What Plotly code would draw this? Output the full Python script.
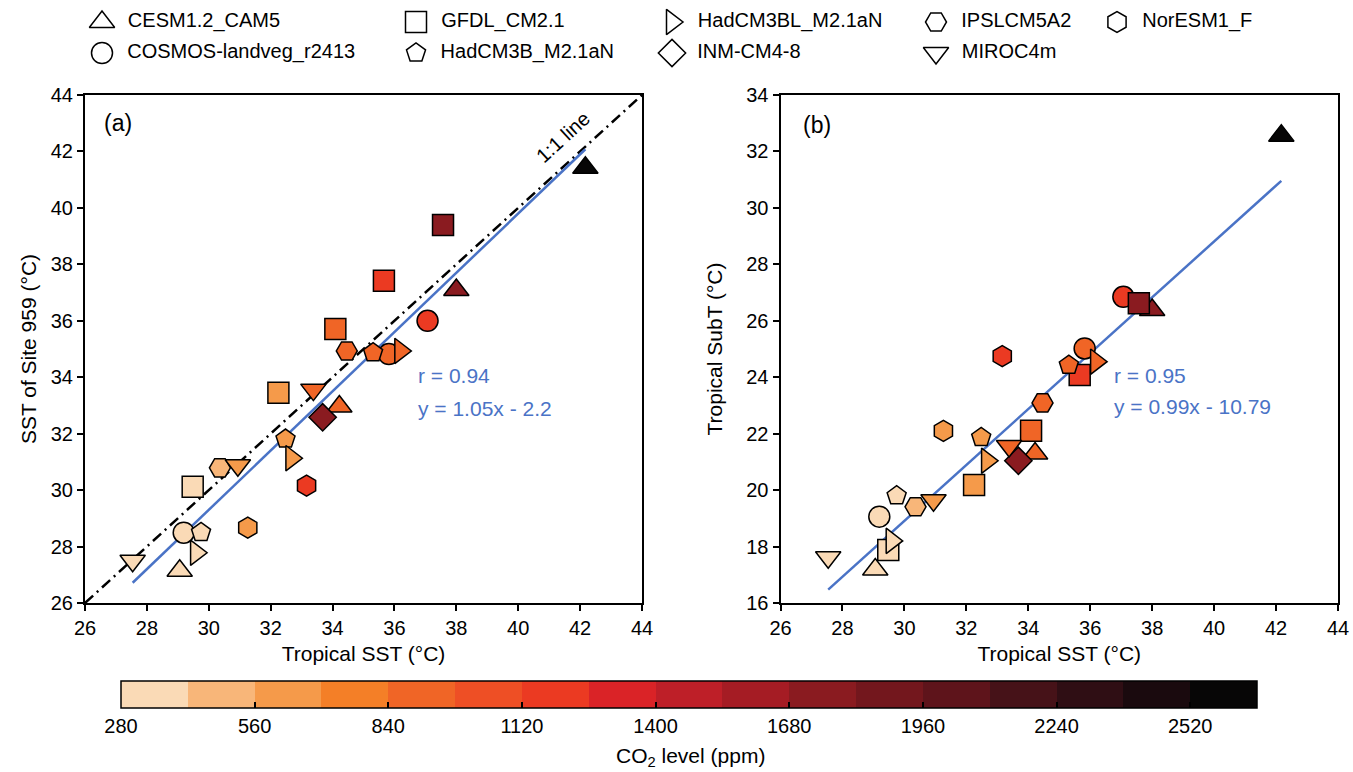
import plotly.graph_objects as go

W, H = 1353, 772
FONT = "Liberation Sans"

# ---------------- data ----------------
MODELS = ["CESM1.2_CAM5", "COSMOS-landveg_r2413", "GFDL_CM2.1", "HadCM3B_M2.1aN",
          "HadCM3BL_M2.1aN", "INM-CM4-8", "IPSLCM5A2", "MIROC4m", "NorESM1_F"]

SYMBOLS = {
    "CESM1.2_CAM5": "triangle-up",
    "COSMOS-landveg_r2413": "circle",
    "GFDL_CM2.1": "square",
    "HadCM3B_M2.1aN": "pentagon",
    "HadCM3BL_M2.1aN": "triangle-right",
    "INM-CM4-8": "diamond",
    "IPSLCM5A2": "hexagon2",
    "MIROC4m": "triangle-down",
    "NorESM1_F": "hexagon",
}

CO2 = {
    "CESM1.2_CAM5": [280, 840, 1680, 2520],
    "COSMOS-landveg_r2413": [280, 840, 1120],
    "GFDL_CM2.1": [280, 560, 840, 1120, 1680],
    "HadCM3B_M2.1aN": [280, 560, 840],
    "HadCM3BL_M2.1aN": [280, 560, 840],
    "INM-CM4-8": [1680],
    "IPSLCM5A2": [420, 840],
    "MIROC4m": [280, 560, 840],
    "NorESM1_F": [560, 1120],
}

TROPICAL_SST = {
    "CESM1.2_CAM5": [29.06, 34.22, 38.00, 42.17],
    "COSMOS-landveg_r2413": [29.19, 35.82, 37.07],
    "GFDL_CM2.1": [29.48, 32.25, 34.09, 35.66, 37.57],
    "HadCM3B_M2.1aN": [29.75, 32.48, 35.31],
    "HadCM3BL_M2.1aN": [29.59, 32.67, 36.19],
    "INM-CM4-8": [33.68],
    "IPSLCM5A2": [30.36, 34.46],
    "MIROC4m": [27.54, 30.94, 33.38],
    "NorESM1_F": [31.26, 33.16],
}

SITE959_SST = {
    "CESM1.2_CAM5": [27.14, 32.96, 37.09, 41.42],
    "COSMOS-landveg_r2413": [28.49, 34.82, 36.00],
    "GFDL_CM2.1": [30.12, 33.45, 35.71, 37.42, 39.39],
    "HadCM3B_M2.1aN": [28.50, 31.81, 34.87],
    "HadCM3BL_M2.1aN": [27.78, 31.13, 34.93],
    "INM-CM4-8": [32.58],
    "IPSLCM5A2": [30.79, 34.93],
    "MIROC4m": [27.50, 30.88, 33.56],
    "NorESM1_F": [28.67, 30.16],
}

TROPICAL_SUBT = {
    "CESM1.2_CAM5": [17.19, 21.30, 26.38, 32.56],
    "COSMOS-landveg_r2413": [19.06, 25.02, 26.85],
    "GFDL_CM2.1": [17.88, 20.18, 22.10, 24.08, 26.62],
    "HadCM3B_M2.1aN": [19.80, 21.87, 24.43],
    "HadCM3BL_M2.1aN": [18.20, 21.04, 24.55],
    "INM-CM4-8": [21.04],
    "IPSLCM5A2": [19.41, 23.09],
    "MIROC4m": [17.62, 19.64, 21.56],
    "NorESM1_F": [22.10, 24.75],
}

# regression results shown on the panels
FIT_A_SLOPE, FIT_A_INTERCEPT, FIT_A_R = 1.05, -2.2, 0.94
FIT_B_SLOPE, FIT_B_INTERCEPT, FIT_B_R = 0.99, -10.79, 0.95

# discrete CO2 colour scale (140 ppm per step)
CO2_MIN, CO2_STEP = 280, 140
CO2_COLORS = ["#FADAB6", "#F8B679", "#F59A4A", "#F47F27", "#F06526", "#EE4F25",
              "#EB3A22", "#DA2327", "#BE1F28", "#A51C24", "#8A1B20", "#73171D",
              "#5E141B", "#461218", "#2F0E14", "#1A0A0E", "#070606"]
CO2_MAX = CO2_MIN + CO2_STEP * len(CO2_COLORS)
CBAR_TICKS = [280, 560, 840, 1120, 1400, 1680, 1960, 2240, 2520]

AXIS_TICKS_X = [26, 28, 30, 32, 34, 36, 38, 40, 42, 44]
AXIS_TICKS_YA = [26, 28, 30, 32, 34, 36, 38, 40, 42, 44]
AXIS_TICKS_YB = [16, 18, 20, 22, 24, 26, 28, 30, 32, 34]

# ---------------- style ----------------
BLUE = "#4A73C6"
SIZES = {"triangle-up": 22, "triangle-down": 22, "triangle-right": 22,
         "circle": 21, "square": 21, "pentagon": 20, "diamond": 21,
         "hexagon": 21, "hexagon2": 21}
LEG_H = 75  # legend band height in px


def co2_color(v):
    idx = int((v - CO2_MIN) // CO2_STEP)
    idx = max(0, min(len(CO2_COLORS) - 1, idx))
    return CO2_COLORS[idx]


fig = go.Figure()

all_x = [v for m in MODELS for v in TROPICAL_SST[m]]
xmin, xmax = min(all_x), max(all_x)

# 1:1 line (panel a)
fig.add_trace(go.Scatter(x=[26, 44], y=[26, 44], mode="lines",
                         line=dict(color="black", width=2.5, dash="11px,5px,2px,5px"),
                         xaxis="x", yaxis="y", showlegend=False, hoverinfo="skip"))
# regression lines
fig.add_trace(go.Scatter(x=[xmin, xmax],
                         y=[FIT_A_SLOPE * xmin + FIT_A_INTERCEPT, FIT_A_SLOPE * xmax + FIT_A_INTERCEPT],
                         mode="lines", line=dict(color=BLUE, width=2.5),
                         xaxis="x", yaxis="y", showlegend=False, hoverinfo="skip"))
fig.add_trace(go.Scatter(x=[xmin, xmax],
                         y=[FIT_B_SLOPE * xmin + FIT_B_INTERCEPT, FIT_B_SLOPE * xmax + FIT_B_INTERCEPT],
                         mode="lines", line=dict(color=BLUE, width=2.5),
                         xaxis="x2", yaxis="y2", showlegend=False, hoverinfo="skip"))

for m in MODELS:
    sym = SYMBOLS[m]
    cols = [co2_color(v) for v in CO2[m]]
    mk = dict(symbol=sym, size=SIZES[sym], color=cols, line=dict(color="black", width=1.5))
    fig.add_trace(go.Scatter(x=TROPICAL_SST[m], y=SITE959_SST[m], mode="markers", marker=mk,
                             name=m, xaxis="x", yaxis="y", showlegend=False))
    fig.add_trace(go.Scatter(x=TROPICAL_SST[m], y=TROPICAL_SUBT[m], mode="markers", marker=mk,
                             name=m, xaxis="x2", yaxis="y2", showlegend=False))

# ---------------- legend (manual grid, 5 columns x 2 rows, column-major) ----------------
LEG_COL_X = [102, 416, 672, 936, 1117]
LEG_ROW_Y = [22, 53]
for i, m in enumerate(MODELS):
    sym = SYMBOLS[m]
    fig.add_trace(go.Scatter(x=[LEG_COL_X[i // 2]], y=[LEG_ROW_Y[i % 2]],
                             mode="markers+text", text=["  " + m], textposition="middle right",
                             textfont=dict(family=FONT, size=20, color="black"),
                             marker=dict(symbol=sym, size=SIZES[sym], color="white",
                                         line=dict(color="black", width=1.5)),
                             xaxis="x3", yaxis="y3", showlegend=False, hoverinfo="skip",
                             cliponaxis=False))

# colour bar holder
cscale = []
n = len(CO2_COLORS)
for i, c in enumerate(CO2_COLORS):
    cscale.append([i / n, c])
    cscale.append([(i + 1) / n, c])
fig.add_trace(go.Scatter(x=[None], y=[None], mode="markers",
                         marker=dict(color=[CO2_MIN], colorscale=cscale, cmin=CO2_MIN, cmax=CO2_MAX,
                                     showscale=True,
                                     colorbar=dict(orientation="h", x=(121 + 1257) / 2 / W, xanchor="center",
                                                   y=1 - 681 / H, yanchor="top", len=1136 / W,
                                                   lenmode="fraction", thickness=27, thicknessmode="pixels",
                                                   outlinewidth=1.5, outlinecolor="black",
                                                   tickvals=CBAR_TICKS, ticks="inside", ticklen=6,
                                                   tickwidth=1.5, tickcolor="black",
                                                   tickfont=dict(family=FONT, size=20, color="black"),
                                                   xpad=0, ypad=0, borderwidth=0)),
                         xaxis="x", yaxis="y", showlegend=False, hoverinfo="skip"))

axis_common = dict(showgrid=False, zeroline=False, showline=True, linecolor="black", linewidth=2,
                   mirror=True, ticks="outside", ticklen=6, tickwidth=1.5, tickcolor="black",
                   tickfont=dict(family=FONT, size=20, color="black"))

fig.update_layout(
    width=W, height=H, margin=dict(l=0, r=0, t=0, b=0, autoexpand=False),
    paper_bgcolor="white", plot_bgcolor="rgba(0,0,0,0)",
    font=dict(family=FONT, size=20, color="black"),
    xaxis=dict(domain=[85 / W, 642 / W], range=[26, 44], tickvals=AXIS_TICKS_X,
               title=dict(text="Tropical SST (°C)", font=dict(size=21), standoff=8), anchor="y",
               **axis_common),
    yaxis=dict(domain=[1 - 603 / H, 1 - 95 / H], range=[26, 44], tickvals=AXIS_TICKS_YA,
               title=dict(text="SST of Site 959 (°C)", font=dict(size=21), standoff=8), anchor="x",
               **axis_common),
    xaxis2=dict(domain=[780.5 / W, 1338 / W], range=[26, 44], tickvals=AXIS_TICKS_X,
                title=dict(text="Tropical SST (°C)", font=dict(size=21), standoff=8), anchor="y2",
                **axis_common),
    yaxis2=dict(domain=[1 - 603 / H, 1 - 95 / H], range=[16, 34], tickvals=AXIS_TICKS_YB,
                title=dict(text="Tropical SubT (°C)", font=dict(size=21), standoff=18), anchor="x2",
                **axis_common),
    xaxis3=dict(domain=[0, 1], range=[0, W], visible=False, fixedrange=True, anchor="y3"),
    yaxis3=dict(domain=[1 - LEG_H / H, 1], range=[LEG_H, 0], visible=False, fixedrange=True,
                anchor="x3"),
)

ann = []
ann.append(dict(text="(a)", xref="x domain", yref="y domain", x=0.03, y=0.945,
                xanchor="left", yanchor="middle", showarrow=False, font=dict(size=23)))
ann.append(dict(text="(b)", xref="x2 domain", yref="y2 domain", x=0.037, y=0.94,
                xanchor="left", yanchor="middle", showarrow=False, font=dict(size=23)))
ann.append(dict(text="1:1 line", xref="x", yref="y", x=41.45, y=42.5, textangle=-42.4,
                showarrow=False, font=dict(size=20)))
ann.append(dict(text=f"r = {FIT_A_R:.2f}", xref="x", yref="y", x=36.7, y=34.05,
                xanchor="left", yanchor="middle", showarrow=False, font=dict(size=21, color=BLUE)))
ann.append(dict(text=f"y = {FIT_A_SLOPE:.2f}x - {abs(FIT_A_INTERCEPT):.1f}", xref="x", yref="y",
                x=36.7, y=32.9, xanchor="left", yanchor="middle", showarrow=False,
                font=dict(size=21, color=BLUE)))
ann.append(dict(text=f"r = {FIT_B_R:.2f}", xref="x2", yref="y2", x=36.7, y=24.05,
                xanchor="left", yanchor="middle", showarrow=False, font=dict(size=21, color=BLUE)))
ann.append(dict(text=f"y = {FIT_B_SLOPE:.2f}x - {abs(FIT_B_INTERCEPT):.2f}", xref="x2", yref="y2",
                x=36.7, y=22.95, xanchor="left", yanchor="middle", showarrow=False,
                font=dict(size=21, color=BLUE)))
ann.append(dict(text="CO<sub>2</sub> level (ppm)", xref="paper", yref="paper", x=690 / W, y=1 - 757 / H,
                xanchor="center", yanchor="middle", showarrow=False, font=dict(size=21)))
fig.update_layout(annotations=ann)

fig.write_html("out.html")
